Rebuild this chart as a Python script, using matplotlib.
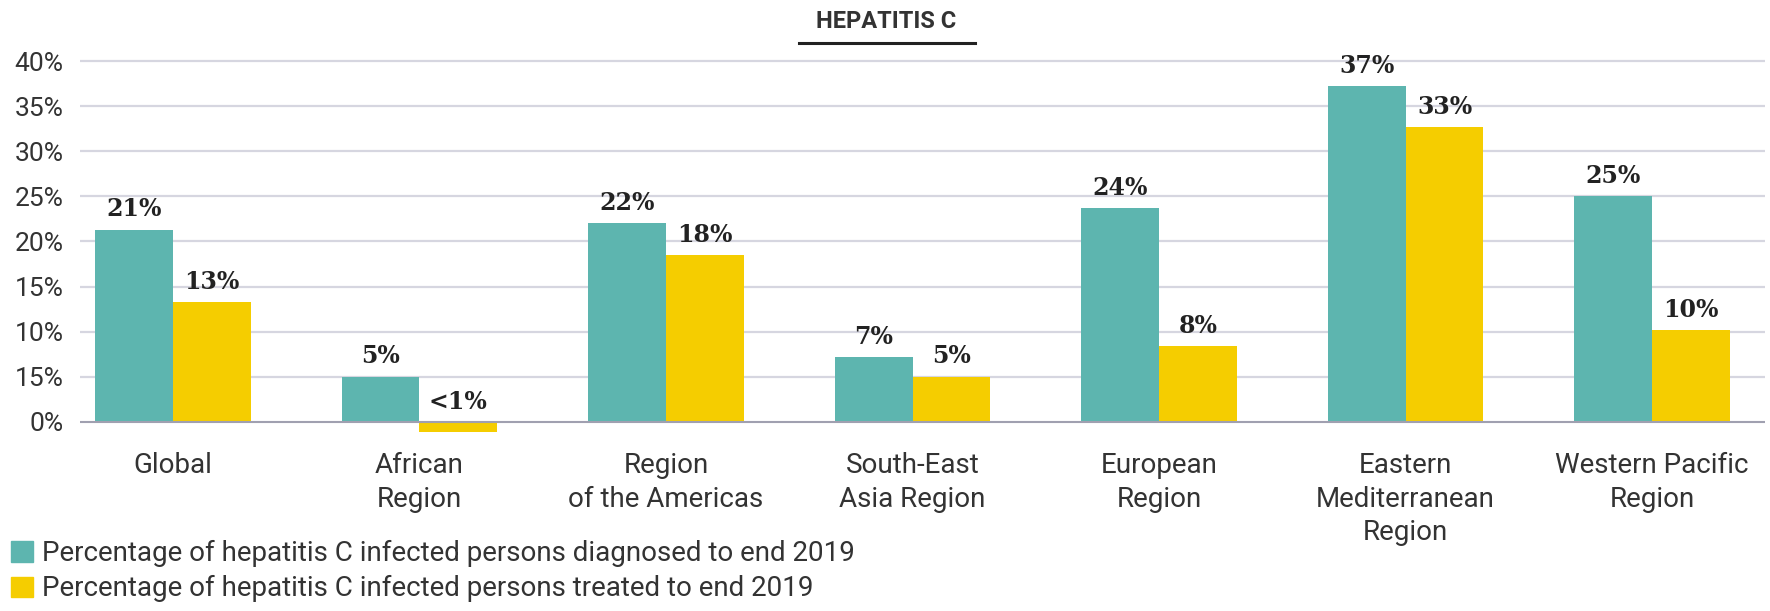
import numpy as np
import matplotlib
matplotlib.use("Agg")
import matplotlib.pyplot as plt
from matplotlib.lines import Line2D
from matplotlib.patches import Patch

# datos
regiones = ["Global", "African\nRegion", "Region\nof the Americas", "South-East\nAsia Region",
            "European\nRegion", "Eastern\nMediterranean\nRegion", "Western Pacific\nRegion"]
diagnosticados = [21.3, 5.0, 22.0, 7.2, 23.7, 37.2, 25.0]
tratados = [13.3, -1.1, 18.5, 5.0, 8.4, 32.7, 10.2]
etiquetas_diag = ["21%", "5%", "22%", "7%", "24%", "37%", "25%"]
etiquetas_trat = ["13%", "<1%", "18%", "5%", "8%", "33%", "10%"]
ticks_y = [0, 5, 10, 15, 20, 25, 30, 35, 40]
etiquetas_y = ["0%", "15%", "10%", "15%", "20%", "25%", "30%", "35%", "40%"]
leyenda = ["Percentage of hepatitis C infected persons diagnosed to end 2019",
           "Percentage of hepatitis C infected persons treated to end 2019"]

TEAL = "#5db5af"
AMARILLO = "#f5cd00"
GRIS = "#333333"

plt.rcParams["font.family"] = ["Roboto", "DejaVu Sans"]

fig = plt.figure(figsize=(17.7, 6.11), dpi=100)
ax = fig.add_axes([80 / 1770, 0.2799, 1685 / 1770, 0.635])

x = np.arange(len(regiones))
ancho = 0.316

b1 = ax.bar(x - ancho / 2, diagnosticados, ancho, color=TEAL, zorder=2)
b2 = ax.bar(x + ancho / 2, tratados, ancho, color=AMARILLO, zorder=2)

for barras, textos in ((b1, etiquetas_diag), (b2, etiquetas_trat)):
    for barra, txt in zip(barras, textos):
        alto = max(barra.get_height(), 0)
        ax.annotate(txt, (barra.get_x() + barra.get_width() / 2, alto),
                    xytext=(0, 6), textcoords="offset points", ha="center", va="bottom",
                    family="DejaVu Serif", fontweight="bold", fontsize=17, color="#222222",
                    clip_on=False)

ax.set_xlim(-0.377, 6.458)
ax.set_ylim(-2, 41)
ax.set_yticks(ticks_y)
ax.set_yticklabels(etiquetas_y, fontsize=19, color=GRIS)
ax.set_xticks(x)
ax.set_xticklabels(regiones, fontsize=20, color=GRIS, linespacing=1.3)
ax.tick_params(axis="both", length=0)
ax.tick_params(axis="y", pad=12)
ax.tick_params(axis="x", pad=9)

for s in ax.spines.values():
    s.set_visible(False)

for t in ticks_y[1:]:
    ax.axhline(t, color="#d6d6e0", linewidth=1.6, zorder=0)
ax.axhline(0, color="#a0a0b0", linewidth=1.5, zorder=3)

fig.text(886 / 1770, 1 - 21 / 611, "HEPATITIS C", ha="center", va="center",
         fontsize=17, fontweight="bold", color=GRIS)
fig.add_artist(Line2D([799 / 1770, 975 / 1770], [1 - 43 / 611, 1 - 43 / 611],
                      color="#222222", linewidth=2.2, transform=fig.transFigure))

manijas = [Patch(color=TEAL), Patch(color=AMARILLO)]
fig.legend(manijas, leyenda, loc="upper left", bbox_to_anchor=(11 / 1770, 1 - 540 / 611),
           frameon=False, fontsize=20, handlelength=0.8, handleheight=0.75,
           handletextpad=0.3, labelspacing=0.3, borderaxespad=0, borderpad=0,
           labelcolor=GRIS)

fig.savefig("out.png", dpi=100)
plt.close(fig)
